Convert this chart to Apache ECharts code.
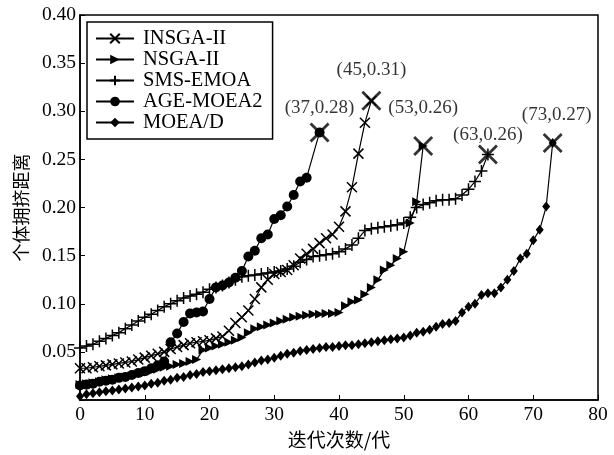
<!DOCTYPE html>
<html><head><meta charset="utf-8">
<script src="https://cdn.jsdelivr.net/npm/echarts@6/dist/echarts.min.js"></script>
<style>html,body{margin:0;padding:0;background:#fff}#c{width:614px;height:455px}</style>
</head><body><div id="c"></div>
<script>
// Series names (legend order)
const seriesNames = ['INSGA-II', 'NSGA-II', 'SMS-EMOA', 'AGE-MOEA2', 'MOEA/D'];

// Crowding distance per generation (index = generation)
const insga2 = [0.033,0.033,0.034,0.035,0.036,0.037,0.038,0.039,0.040,0.042,
  0.044,0.046,0.048,0.050,0.053,0.055,0.057,0.059,0.060,0.061,
  0.062,0.064,0.066,0.072,0.080,0.086,0.093,0.105,0.117,0.125,
  0.131,0.133,0.135,0.140,0.147,0.152,0.157,0.163,0.168,0.172,
  0.180,0.196,0.221,0.256,0.288,0.311];
const nsga2 = [0.016,0.017,0.018,0.019,0.021,0.022,0.023,0.024,0.025,0.027,
  0.028,0.030,0.032,0.034,0.035,0.037,0.038,0.040,0.042,0.052,
  0.054,0.056,0.058,0.060,0.062,0.065,0.070,0.074,0.076,0.078,
  0.080,0.082,0.084,0.086,0.087,0.088,0.089,0.089,0.090,0.090,
  0.091,0.098,0.102,0.104,0.110,0.117,0.125,0.135,0.140,0.147,
  0.154,0.184,0.206,0.264];
const smsEmoa = [0.054,0.056,0.058,0.061,0.064,0.067,0.070,0.074,0.078,0.082,
  0.086,0.089,0.093,0.097,0.100,0.103,0.106,0.108,0.110,0.112,
  0.115,0.117,0.119,0.122,0.125,0.128,0.129,0.130,0.131,0.132,
  0.133,0.134,0.136,0.139,0.143,0.146,0.149,0.150,0.151,0.152,
  0.154,0.157,0.161,0.168,0.176,0.178,0.179,0.180,0.181,0.182,
  0.184,0.190,0.200,0.203,0.205,0.207,0.208,0.208,0.209,0.213,
  0.219,0.227,0.238,0.255];
const ageMoea2 = [0.015,0.016,0.017,0.019,0.020,0.021,0.023,0.024,0.026,0.028,
  0.030,0.033,0.036,0.040,0.060,0.069,0.081,0.090,0.091,0.092,
  0.105,0.117,0.119,0.122,0.127,0.134,0.149,0.155,0.168,0.172,
  0.188,0.192,0.201,0.213,0.227,0.231,null,0.278];
const moead = [0.004,0.006,0.007,0.008,0.009,0.010,0.011,0.012,0.013,0.014,
  0.015,0.017,0.018,0.020,0.021,0.023,0.024,0.026,0.027,0.029,
  0.030,0.031,0.032,0.033,0.034,0.035,0.037,0.039,0.041,0.042,
  0.044,0.046,0.048,0.049,0.051,0.052,0.053,0.054,0.055,0.055,
  0.056,0.057,0.057,0.058,0.059,0.060,0.061,0.062,0.063,0.064,
  0.065,0.067,0.070,0.071,0.073,0.076,0.079,0.080,0.082,0.091,
  0.097,0.100,0.109,0.111,0.111,0.117,0.125,0.134,0.147,0.152,
  0.166,0.177,0.201,0.267];

// Peak annotation texts
const peakLabels = ['(45,0.31)', '(53,0.26)', '(63,0.26)', '(37,0.28)', '(73,0.27)'];

// Axis settings
const xMin = 0, xMax = 80, xStep = 10;
const yMin = 0, yMax = 0.4, yStep = 0.05;
const xName = '迭代次数/代';
const yName = '个体拥挤距离';

// ---- styles ----
const SERIF = '"Liberation Serif","Times New Roman",serif';
const CJK = '"Noto Sans CJK SC","Noto Sans CJK JP",sans-serif';
const XPATH = 'path://M0,0L10,10M10,0L0,10';
const PLUSPATH = 'path://M5,0L5,10M0,5L10,5';
const BIGX = 'path://M0,1L1,0L5,4L9,0L10,1L6,5L10,9L9,10L5,6L1,10L0,9L4,5Z';
const TRI = 'path://M0,0L10,5L0,10Z';
const peakOffsets = [[0,-31],[0,-38],[0,-20],[0,-24],[4,-28]];

const allData = [insga2, nsga2, smsEmoa, ageMoea2, moead];
const symbolDefs = [
  {symbol: XPATH, size: 10, stroke: true},
  {symbol: TRI, size: 9, stroke: false},
  {symbol: PLUSPATH, size: 12, stroke: true},
  {symbol: 'circle', size: 10, stroke: false},
  {symbol: 'diamond', size: [8, 10], stroke: false}
];

const series = allData.map((arr, k) => {
  const d = symbolDefs[k];
  return {
    name: seriesNames[k],
    type: 'line',
    data: arr.map((v, i) => [i, v]),
    connectNulls: true,
    symbol: d.symbol,
    symbolSize: d.size,
    showAllSymbol: true,
    color: '#000',
    lineStyle: {color: '#000', width: 1.2},
    itemStyle: d.stroke ? {color: 'rgba(0,0,0,0)', borderColor: '#000', borderWidth: 1.5}
                        : {color: '#000', borderWidth: 0},
    emphasis: {disabled: true},
    animation: false,
    z: 3
  };
});

const peaks = allData.map((arr, k) => {
  const last = arr.length - 1;
  return {
    value: [last, arr[last]],
    label: {show: true, formatter: peakLabels[k], position: 'inside', offset: peakOffsets[k]}
  };
});

series.push({
  name: 'peaks',
  type: 'scatter',
  data: peaks,
  symbol: BIGX,
  symbolSize: 20,
  itemStyle: {color: '#000'},
  label: {color: '#000', fontFamily: SERIF, fontSize: 19},
  emphasis: {disabled: true},
  animation: false,
  z: 5
});

const chart = echarts.init(document.getElementById('c'), null, {renderer: 'canvas'});
chart.setOption({
  backgroundColor: '#fff',
  animation: false,
  grid: {left: 80, right: 16, top: 15, bottom: 55, show: true, borderColor: '#000', borderWidth: 1.5, backgroundColor: 'transparent'},
  legend: {
    data: seriesNames,
    orient: 'vertical',
    left: 87, top: 22,
    itemWidth: 38, itemHeight: 12, itemGap: 0,
    padding: [6, 10, 6, 8],
    borderColor: '#000', borderWidth: 1.5,
    backgroundColor: '#fff',
    textStyle: {fontFamily: SERIF, fontSize: 20.5, color: '#000', padding: [0, 0, 0, 4]},
    selectedMode: false
  },
  xAxis: {
    type: 'value', min: xMin, max: xMax, interval: xStep,
    name: xName, nameLocation: 'middle', nameGap: 28,
    nameTextStyle: {fontFamily: CJK, fontSize: 19, color: '#000'},
    axisLine: {lineStyle: {color: '#000', width: 1.5}},
    axisTick: {inside: true, length: 5, lineStyle: {color: '#000'}},
    axisLabel: {fontFamily: SERIF, fontSize: 19.5, color: '#000', margin: 5},
    splitLine: {show: false}
  },
  yAxis: {
    type: 'value', min: yMin, max: yMax, interval: yStep,
    name: yName, nameLocation: 'middle', nameGap: 50,
    nameTextStyle: {fontFamily: CJK, fontSize: 18, color: '#000'},
    axisLine: {lineStyle: {color: '#000', width: 1.5}},
    axisTick: {inside: true, length: 5, lineStyle: {color: '#000'}},
    axisLabel: {fontFamily: SERIF, fontSize: 19.5, color: '#000', margin: 4,
      formatter: v => (v === 0 ? '' : v.toFixed(2))},
    splitLine: {show: false}
  },
  series: series
});
</script>
</body></html>
